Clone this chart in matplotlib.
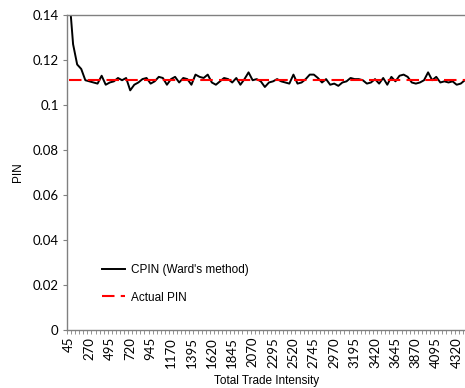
import numpy as np
import matplotlib.pyplot as plt

# trade intensity categories, 45 to 4410 in steps of 45
intensity = list(range(45, 4411, 45))

cpin = [0.150, 0.127, 0.118, 0.116, 0.111, 0.1105, 0.110, 0.1095, 0.113, 0.109,
        0.110, 0.1105, 0.112, 0.111, 0.112, 0.1065, 0.109, 0.110, 0.1115, 0.112,
        0.1095, 0.1105, 0.1125, 0.112, 0.109, 0.1115, 0.1125, 0.110, 0.112, 0.1115,
        0.109, 0.1135, 0.1125, 0.112, 0.1135, 0.110, 0.109, 0.1105, 0.112, 0.1115,
        0.110, 0.112, 0.109, 0.1115, 0.1145, 0.111, 0.1115, 0.1105, 0.108, 0.110,
        0.1105, 0.1115, 0.1105, 0.110, 0.1095, 0.1135, 0.1095, 0.110, 0.1115, 0.1135,
        0.1135, 0.112, 0.110, 0.1115, 0.109, 0.1095, 0.1085, 0.110, 0.1105, 0.112,
        0.1115, 0.1115, 0.111, 0.1095, 0.110, 0.1115, 0.1095, 0.112, 0.109, 0.1125,
        0.1105, 0.113, 0.1135, 0.1125, 0.110, 0.1095, 0.110, 0.111, 0.1145, 0.111,
        0.1125, 0.110, 0.1105, 0.110, 0.1105, 0.109, 0.1095, 0.111]

actual_pin = [0.111] * len(intensity)

plt.rcParams['font.family'] = ['Liberation Sans', 'DejaVu Sans']

fig = plt.figure(figsize=(4.65, 3.88), dpi=100)
ax = fig.add_axes([0.144, 0.1495, 0.86, 0.8119])

x = np.arange(len(intensity))
ax.plot(x, cpin, color='black', lw=1.4, label="CPIN (Ward's method)")
ax.plot(x, actual_pin, color='red', lw=1.5, ls=(0, (6, 3)), label='Actual PIN')

ax.set_xlim(-0.5, len(intensity) - 0.5)
ax.set_ylim(0, 0.14)
ax.set_yticks(np.arange(0, 0.141, 0.02))
ax.set_yticklabels(['0', '0.02', '0.04', '0.06', '0.08', '0.1', '0.12', '0.14'],
                   family='Lato', fontsize=9.5)

# label every fifth category, tick mark on each one
ax.set_xticks(x[::5])
ax.set_xticklabels([str(v) for v in intensity[::5]], rotation=90,
                   family='Lato', fontsize=9.5)
ax.set_xticks(np.arange(-0.5, len(intensity), 1), minor=True)
ax.tick_params(axis='x', which='major', length=0, pad=5)
ax.tick_params(axis='x', which='minor', length=3, color='#808080')
ax.tick_params(axis='y', length=3, color='#808080', pad=3)

for side in ['left', 'top', 'bottom']:
    ax.spines[side].set_color('#808080')
    ax.spines[side].set_linewidth(1)
ax.spines['right'].set_visible(False)

ax.set_xlabel('Total Trade Intensity', fontsize=8.5, labelpad=5)
ax.set_ylabel('PIN', fontsize=8.5, labelpad=6)

ax.legend(loc='lower left', bbox_to_anchor=(0.06, 0.05), frameon=False,
          fontsize=8.5, handlelength=2.0, handletextpad=0.5, labelspacing=1.3)

fig.savefig('out.png', dpi=100)
